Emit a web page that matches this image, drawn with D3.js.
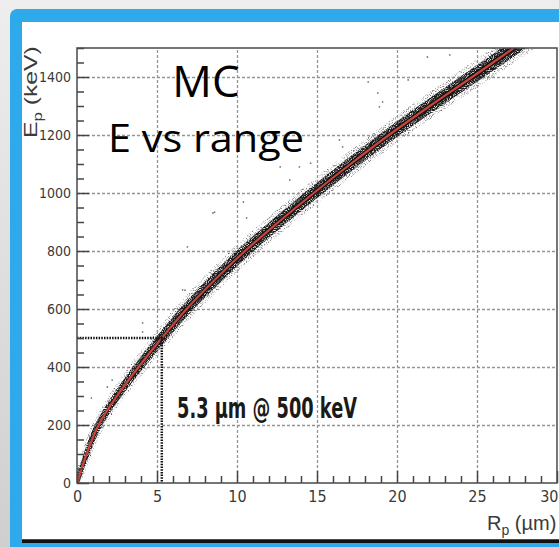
<!DOCTYPE html>
<html>
<head>
<meta charset="utf-8">
<script src="https://cdn.jsdelivr.net/npm/d3@7"></script>
<style>
  body { margin: 0; overflow: hidden; background: #fff; }
  svg { display: block; }
  .tick text { font-family: "Liberation Sans Narrow", "DejaVu Sans Condensed", sans-serif; fill: #3a3a3a; }
</style>
</head>
<body>
<svg id="chart" width="559" height="547"></svg>
<script>
/****************************************************************
    Values
/****************************************************************/
// mean curve of the MC cloud: range (µm) against energy (keV)
const curveRange = [0, 0.6, 1.35, 2.5, 3.85, 5.3, 6.85, 8.6, 10.5, 12.6, 14.8, 17.1, 19.5, 22.05, 24.7, 27.3]
const curveEnergy = [0, 100, 200, 300, 400, 500, 600, 700, 800, 900, 1000, 1100, 1200, 1300, 1400, 1500]
// half width of the cloud round the curve, in µm (range straggling)
const cloudSpread = [0.25, 0.3, 0.4, 0.5, 0.6, 0.65, 0.75, 0.85, 0.9, 0.95, 1.0, 1.05, 1.1, 1.2, 1.25, 1.3]

// stray events lying off the band
const strayRange = [0.9, 1.9, 2.2, 4.1, 4.1, 6.6, 6.75, 6.9, 7.5, 8.5, 8.6, 10.4, 10.6, 12.7, 13.3, 13.9, 14.6, 16.4, 16.6, 18.2, 18.8, 18.9, 19.1, 20.7, 21.9, 23.3]
const strayEnergy = [293, 331, 355, 521, 552, 666, 665, 814, 655, 931, 934, 969, 914, 1090, 1045, 1090, 1103, 1183, 1159, 1383, 1345, 1297, 1314, 1390, 1469, 1476]

const xTicks = [0, 5, 10, 15, 20, 25, 30]
const yTicks = [0, 200, 400, 600, 800, 1000, 1200, 1400]
const xMinor = d3.range(0, 31).filter(v => v % 5 !== 0)
const yMinor = d3.range(0, 1501, 50).filter(v => v % 200 !== 0)

const markRange = 5.3
const markEnergy = 500

/****************************************************************
    Slide background: grey page, blue frame, white card
/****************************************************************/
const svg = d3.select('#chart')
const defs = svg.append('defs')

const bg = defs.append('linearGradient').attr('id', 'page').attr('x1', 0).attr('y1', 0).attr('x2', 0).attr('y2', 1)
bg.append('stop').attr('offset', 0).attr('stop-color', '#eeeeee')
bg.append('stop').attr('offset', 1).attr('stop-color', '#cfcfcf')

svg.append('rect').attr('width', 559).attr('height', 547).attr('fill', 'url(#page)')
svg.append('rect').attr('x', 10).attr('y', 9).attr('width', 700).attr('height', 700).attr('rx', 7).attr('fill', '#2ea9e9')
svg.append('rect').attr('x', 22).attr('y', 22).attr('width', 700).attr('height', 517).attr('fill', '#ffffff')
svg.append('rect').attr('x', 22).attr('y', 539.5).attr('width', 700).attr('height', 3.5).attr('fill', '#111111')

/****************************************************************
    Scales
/****************************************************************/
const x = d3.scaleLinear().domain([0, 30]).range([77, 557])
const y = d3.scaleLinear().domain([0, 1500]).range([483, 48])
const plotW = x(30) - x(0)
const plotH = y(0) - y(1500)

defs.append('clipPath').attr('id', 'plotClip')
  .append('rect').attr('x', x(0)).attr('y', y(1500)).attr('width', plotW).attr('height', plotH)

// grain so the cloud reads as many small hits
function grain(id, k, b, freq) {
  const f = defs.append('filter').attr('id', id)
    .attr('x', 0).attr('y', 0).attr('width', 1).attr('height', 1)
  f.append('feTurbulence').attr('type', 'fractalNoise').attr('baseFrequency', freq)
    .attr('numOctaves', 1).attr('seed', 7).attr('result', 'noise')
  f.append('feColorMatrix').attr('in', 'noise').attr('type', 'matrix')
    .attr('values', `0 0 0 0 0  0 0 0 0 0  0 0 0 0 0  ${k} 0 0 0 ${b}`).attr('result', 'dots')
  f.append('feComposite').attr('in', 'SourceGraphic').attr('in2', 'dots').attr('operator', 'in')
  f.append('feGaussianBlur').attr('stdDeviation', 0.35)
}
grain('grainOuter', 3.5, -1.75, 0.95)
grain('grainInner', 3.5, -0.9, 0.95)

/****************************************************************
    Grid
/****************************************************************/
const grid = svg.append('g').attr('class', 'grid')
grid.append('g').attr('transform', `translate(0,${y(0)})`)
  .call(d3.axisBottom(x).tickValues(xTicks.slice(1, -1)).tickSize(-plotH).tickFormat(''))
grid.append('g').attr('transform', `translate(${x(0)},0)`)
  .call(d3.axisLeft(y).tickValues(yTicks.slice(1)).tickSize(-plotW).tickFormat(''))
grid.selectAll('.domain').remove()
grid.selectAll('line').attr('stroke', '#949494').attr('stroke-width', 1.3).attr('stroke-dasharray', '3,2')

/****************************************************************
    MC cloud, stray hits and fitted curve
/****************************************************************/
const pts = curveRange.map((r, i) => ({ r: r, e: curveEnergy[i], s: cloudSpread[i] }))
const plot = svg.append('g').attr('clip-path', 'url(#plotClip)')

const band = (f) => d3.area().curve(d3.curveCatmullRom.alpha(0.5))
  .y(d => y(d.e)).x0(d => x(d.r - d.s * f)).x1(d => x(d.r + d.s * f))

plot.append('path').datum(pts).attr('d', band(1.05)).attr('fill', '#5a5a5a').attr('filter', 'url(#grainOuter)')
plot.append('path').datum(pts).attr('d', band(0.6)).attr('fill', '#1c1c1c').attr('filter', 'url(#grainInner)')
plot.append('path').datum(pts).attr('d', band(0.22)).attr('fill', '#111')

plot.selectAll('circle.stray').data(strayRange).join('circle')
  .attr('class', 'stray')
  .attr('cx', d => x(d)).attr('cy', (d, i) => y(strayEnergy[i]))
  .attr('r', 0.9).attr('fill', '#7a7a7a')

plot.append('path').datum(pts)
  .attr('d', d3.line().curve(d3.curveCatmullRom.alpha(0.5)).x(d => x(d.r)).y(d => y(d.e)))
  .attr('fill', 'none').attr('stroke', '#c8443c').attr('stroke-width', 2.2)

/****************************************************************
    Dotted marker at 5.3 µm / 500 keV
/****************************************************************/
svg.append('path')
  .attr('d', `M${x(0)},${y(markEnergy)}H${x(markRange)}V${y(0)}`)
  .attr('fill', 'none').attr('stroke', '#111').attr('stroke-width', 2.5).attr('stroke-dasharray', '1.5,1.2')

svg.append('text').attr('x', 177).attr('y', 418)
  .attr('font-family', '"Liberation Sans Narrow", "DejaVu Sans Condensed", sans-serif')
  .attr('font-weight', 'bold').attr('font-size', 28).attr('fill', '#1a1a1a')
  .attr('textLength', 180).attr('lengthAdjust', 'spacingAndGlyphs')
  .text(`${markRange} µm @ ${markEnergy} keV`)

/****************************************************************
    Axes: ticks point inward, frame all round
/****************************************************************/
const ax = svg.append('g').attr('class', 'axes')
const xAxis = ax.append('g').attr('transform', `translate(0,${y(0)})`)
  .call(d3.axisBottom(x).tickValues(xTicks).tickSize(-12).tickPadding(8).tickFormat(d3.format('d')))
  .attr('font-size', 16)
// last label sits against the card edge
xAxis.selectAll('.tick text').filter(d => d === 30).attr('text-anchor', 'end').attr('dx', 1)
ax.append('g').attr('transform', `translate(0,${y(0)})`)
  .call(d3.axisBottom(x).tickValues(xMinor).tickSize(-7).tickFormat(''))
ax.append('g').attr('transform', `translate(${x(0)},0)`)
  .call(d3.axisLeft(y).tickValues(yTicks).tickSize(-12).tickPadding(6).tickFormat(d3.format('d')))
  .attr('font-size', 14)
ax.append('g').attr('transform', `translate(${x(0)},0)`)
  .call(d3.axisLeft(y).tickValues(yMinor).tickSize(-7).tickFormat(''))
ax.selectAll('.domain').remove()
ax.selectAll('line').attr('stroke', '#444').attr('stroke-width', 1.5)

svg.append('rect').attr('x', x(0)).attr('y', y(1500)).attr('width', plotW).attr('height', plotH)
  .attr('fill', 'none').attr('stroke', '#4a4a4a').attr('stroke-width', 1.5)

// axis titles
const yTitle = svg.append('text').attr('transform', 'translate(37,138) rotate(-90) scale(1.3,1)')
  .attr('font-family', '"Liberation Sans", Arial, sans-serif').attr('font-size', 19).attr('fill', '#3a3a3a')
yTitle.append('tspan').text('E')
yTitle.append('tspan').attr('font-size', 13).attr('dy', 5).text('p')
yTitle.append('tspan').attr('dy', -5).text(' (keV)')

const xTitle = svg.append('text').attr('x', 487).attr('y', 530)
  .attr('font-family', '"Liberation Sans", Arial, sans-serif')
  .attr('font-size', 20).attr('fill', '#3a3a3a')
xTitle.append('tspan').text('R')
xTitle.append('tspan').attr('font-size', 14).attr('dy', 5).text('p')
xTitle.append('tspan').attr('dy', -5).text(' (µm)')

/****************************************************************
    Slide caption
/****************************************************************/
svg.append('text').attr('x', 206).attr('y', 97).attr('text-anchor', 'middle')
  .attr('font-family', '"Open Sans", sans-serif').attr('font-size', 44).attr('fill', '#000')
  .text('MC')
svg.append('text').attr('x', 108).attr('y', 152)
  .attr('font-family', '"Open Sans", sans-serif').attr('font-size', 38).attr('fill', '#000')
  .attr('textLength', 196).attr('lengthAdjust', 'spacingAndGlyphs')
  .text('E vs range')
</script>
</body>
</html>
